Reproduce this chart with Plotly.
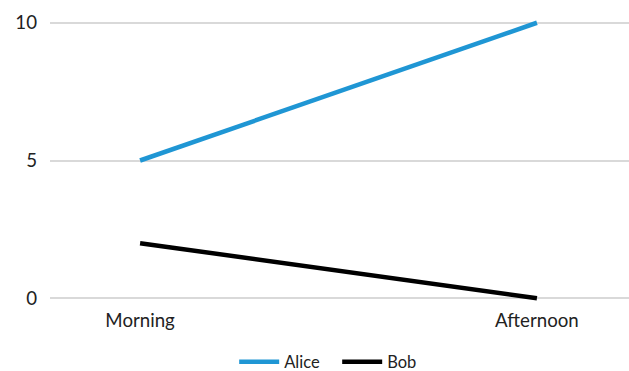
import plotly.graph_objects as go

periods = ["Morning", "Afternoon"]
alice = [5, 10]
bob = [2, 0]
y_ticks = [0, 5, 10]

fig = go.Figure()
fig.add_trace(go.Scatter(x=periods, y=alice, name="Alice", mode="lines",
                         line=dict(color="#1f96d4", width=4.5), cliponaxis=False))
fig.add_trace(go.Scatter(x=periods, y=bob, name="Bob", mode="lines",
                         line=dict(color="#000000", width=4.5), cliponaxis=False))

fig.update_layout(
    width=629, height=371,
    margin=dict(l=50, r=0, t=20, b=70),
    paper_bgcolor="white", plot_bgcolor="white",
    font=dict(family="Lato", size=18.7, color="#222222"),
    xaxis=dict(range=[-0.227, 1.232], showgrid=False, zeroline=False,
               showline=False, ticks="", ticklabelstandoff=6),
    yaxis=dict(range=[-0.1, 10.1], tickvals=y_ticks, showgrid=True,
               gridcolor="#d9d9d9", gridwidth=1.5, zeroline=False,
               showline=False, ticks="", ticklabelstandoff=12),
    legend=dict(orientation="h", x=0.496, xanchor="center",
                yref="container", y=0.024, yanchor="middle",
                font=dict(size=16.5), itemwidth=40, entrywidth=48),
    showlegend=True,
)

fig.write_html("out.html")
